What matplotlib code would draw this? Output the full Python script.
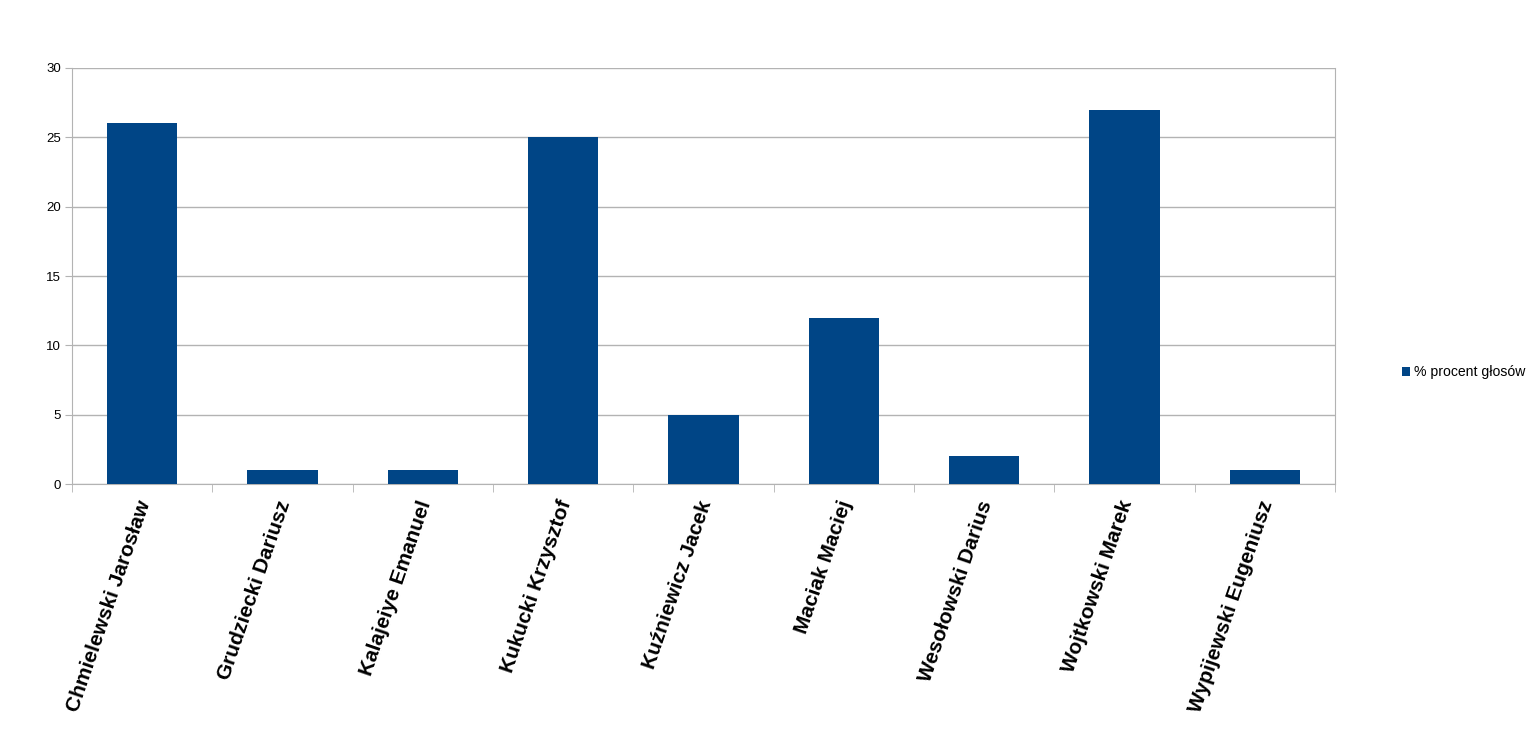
import numpy as np
import matplotlib.pyplot as plt
import matplotlib.transforms as mtransforms

# Dane z wykresu
kandydaci = ["Chmielewski Jarosław", "Grudziecki Dariusz", "Kalajeiye Emanuel",
             "Kukucki Krzysztof", "Kuźniewicz Jacek", "Maciak Maciej",
             "Wesołowski Darius", "Wojtkowski Marek", "Wypijewski Eugeniusz"]
procent = [26, 1, 1, 25, 5, 12, 2, 27, 1]
y_ticks = [0, 5, 10, 15, 20, 25, 30]

plt.rcParams['font.family'] = ['Liberation Sans', 'DejaVu Sans']

fig = plt.figure(figsize=(15.35, 7.47), dpi=100)
ax = fig.add_axes([0.0469, 0.352, 0.8228, 0.557])

x = np.arange(len(kandydaci))
ax.bar(x, procent, width=0.5, color='#004586', zorder=3, label="% procent głosów")

ax.set_xlim(-0.5, len(kandydaci) - 0.5)
ax.set_ylim(0, 30)
ax.set_yticks(y_ticks)
ax.tick_params(axis='y', labelsize=9.5, length=5, color='#b3b3b3', pad=3)
ax.yaxis.grid(True, color='#b3b3b3', linewidth=1, zorder=0)

# Etykiety kategorii
ax.set_xticks(x)
ax.set_xticklabels(kandydaci, rotation=71, ha='right', va='center',
                   rotation_mode='anchor', fontsize=15, fontweight='bold')
ax.tick_params(axis='x', length=0, pad=12)
offset = mtransforms.ScaledTranslation(0.03, 0, fig.dpi_scale_trans)
for lab in ax.get_xticklabels():
    lab.set_transform(lab.get_transform() + offset)

# Znaczniki pomiędzy kategoriami
ax.set_xticks(np.arange(-0.5, len(kandydaci), 1), minor=True)
ax.tick_params(axis='x', which='minor', length=6, color='#b3b3b3')

for side in ['left', 'right', 'bottom']:
    ax.spines[side].set_color('#b3b3b3')
ax.spines['top'].set_visible(False)

ax.legend(loc='center left', bbox_to_anchor=(0.905, 0.502),
          bbox_transform=fig.transFigure, frameon=False,
          fontsize=10.1, handlelength=0.6, handleheight=0.6, handletextpad=0.3)

fig.savefig("out.png", dpi=100)
